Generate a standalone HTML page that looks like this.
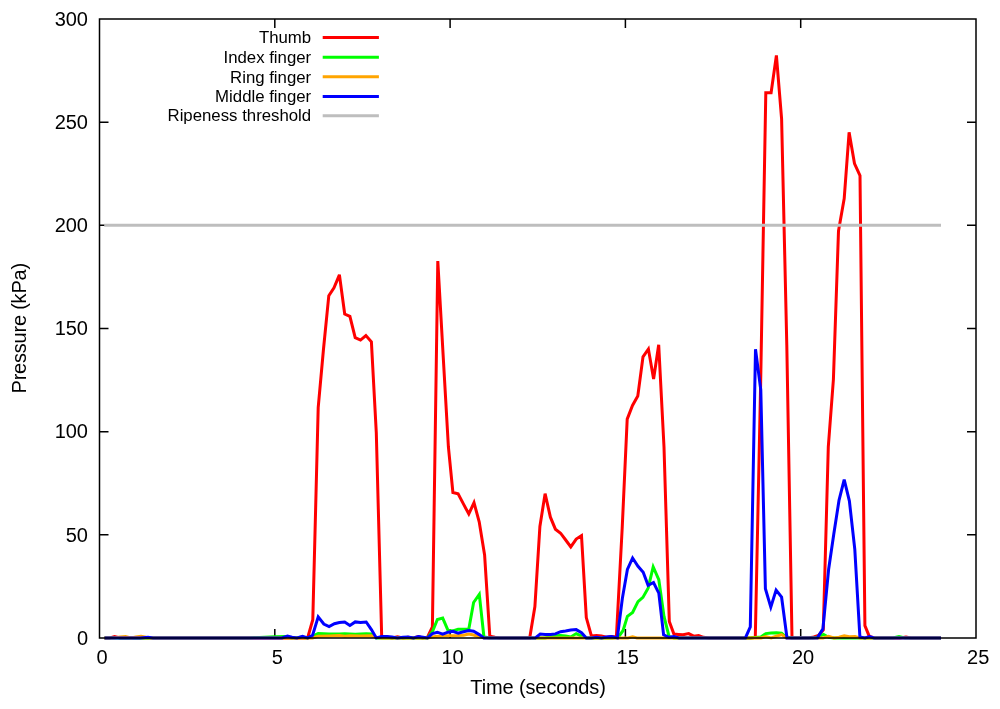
<!DOCTYPE html>
<html lang="en">
<head>
<meta charset="utf-8">
<title>Pressure vs Time</title>
<style>
html,body{margin:0;padding:0;background:#fff;}
body{width:1000px;height:709px;overflow:hidden;}
svg{display:block;}
</style>
</head>
<body>
<svg width="1000" height="709" viewBox="0 0 1000 709">
<rect width="1000" height="709" fill="#fff"/>
<g stroke="#000" stroke-width="1.5" fill="none" stroke-linecap="butt">
<path d="M99.5,534.83h9M976.0,534.83h-9"/>
<path d="M99.5,431.67h9M976.0,431.67h-9"/>
<path d="M99.5,328.50h9M976.0,328.50h-9"/>
<path d="M99.5,225.33h9M976.0,225.33h-9"/>
<path d="M99.5,122.17h9M976.0,122.17h-9"/>
<path d="M274.80,638.0v-9M274.80,19.0v9"/>
<path d="M450.10,638.0v-9M450.10,19.0v9"/>
<path d="M625.40,638.0v-9M625.40,19.0v9"/>
<path d="M800.70,638.0v-9M800.70,19.0v9"/>
</g>
<polyline fill="none" stroke="#ff0000" stroke-width="3.0" stroke-linejoin="miter" stroke-miterlimit="3.8" stroke-linecap="butt" points="104.5,637.9 109.8,637.9 114.6,636.6 120.0,637.9 125.0,637.9 130.0,637.9 140.0,637.9 150.0,637.9 200.0,637.9 250.0,637.9 290.0,637.9 302.3,637.9 307.6,637.9 312.8,619.7 318.2,407.7 323.5,349.0 328.8,295.7 334.0,287.8 339.4,274.8 344.7,314.0 349.9,316.4 355.2,337.6 360.5,340.1 365.9,335.5 371.4,341.8 376.3,432.7 381.7,637.3 387.0,637.0 392.0,637.9 397.5,636.8 403.0,637.9 408.0,637.2 413.5,637.9 418.5,636.6 422.5,637.9 427.5,637.2 432.4,626.8 437.8,261.1 443.1,354.7 448.4,447.0 452.9,492.5 458.1,493.9 463.4,503.9 468.8,514.0 474.0,502.7 479.2,521.8 484.6,554.9 489.8,636.3 495.0,637.3 500.0,637.9 510.0,637.9 520.0,637.9 529.7,637.9 534.9,606.6 539.9,526.4 545.1,493.7 550.4,517.2 555.4,529.2 560.6,533.2 565.7,540.0 570.8,546.9 576.2,539.1 581.5,535.6 586.3,617.6 591.4,636.0 596.5,635.6 601.5,635.9 606.5,637.2 611.5,636.4 616.4,636.9 622.2,528.0 627.2,419.1 632.5,405.5 637.8,396.0 643.0,356.8 648.4,349.0 653.6,379.0 658.7,344.8 664.0,447.0 669.3,621.4 673.9,634.0 678.5,634.4 683.1,634.7 688.7,633.6 693.7,636.2 698.6,635.5 703.5,637.3 709.0,637.9 720.0,637.9 735.0,637.9 745.0,637.9 750.3,637.9 755.3,637.3 760.6,386.0 765.8,92.8 771.1,92.8 776.4,55.4 781.6,118.8 786.8,345.0 792.0,637.9 797.0,637.9 803.0,637.9 808.5,637.9 813.8,637.0 818.5,635.5 823.3,630.0 828.3,446.8 833.4,379.5 838.5,230.9 844.2,198.5 849.1,132.3 854.5,163.6 860.0,175.6 864.9,625.6 869.3,636.4 875.0,637.9 880.0,637.9 900.0,637.9 906.0,637.0 911.0,637.9 925.0,637.9 941.0,637.9"/>
<polyline fill="none" stroke="#00ff00" stroke-width="3.0" stroke-linejoin="miter" stroke-miterlimit="3.8" stroke-linecap="butt" points="104.5,637.9 140.0,637.9 200.0,637.9 250.0,637.9 265.0,637.2 275.0,636.8 285.0,636.6 292.0,637.9 302.0,637.3 307.6,637.9 312.6,636.2 318.2,633.6 323.8,633.8 329.1,634.0 334.4,634.1 339.4,634.0 344.7,633.8 349.9,634.0 355.2,634.2 360.5,634.0 366.2,633.7 371.4,633.9 376.3,637.9 381.7,637.9 390.0,637.9 400.0,637.9 410.0,637.9 427.5,637.9 432.4,631.7 437.4,619.5 442.7,618.1 448.0,630.3 452.9,631.0 458.1,629.3 463.5,629.3 468.8,629.1 473.6,602.5 479.3,594.4 483.9,636.7 489.0,637.9 500.0,637.9 530.0,637.9 545.0,637.9 555.4,635.8 560.6,635.4 565.6,636.0 570.8,637.0 576.2,633.6 581.5,636.0 586.3,637.9 591.4,637.9 600.0,637.9 612.0,637.9 618.2,637.3 623.1,630.5 627.4,616.4 632.6,612.5 638.0,601.6 642.9,597.4 648.1,588.2 653.2,567.0 658.8,579.7 664.0,616.4 669.0,636.4 674.0,637.9 690.0,637.9 720.0,637.9 750.0,637.9 760.9,636.9 765.8,633.6 771.1,633.1 776.4,632.7 781.6,633.1 786.0,637.0 792.0,637.9 805.0,637.9 813.0,637.9 818.3,637.0 823.5,634.4 828.6,637.2 834.0,637.9 840.0,637.9 846.0,637.9 852.0,637.9 858.0,637.9 866.0,637.9 870.0,637.9 875.0,637.9 893.0,637.9 899.0,636.6 905.0,637.9 941.0,637.9"/>
<polyline fill="none" stroke="#ffa500" stroke-width="3.0" stroke-linejoin="miter" stroke-miterlimit="3.8" stroke-linecap="butt" points="104.5,637.9 114.0,637.9 120.0,637.0 125.5,636.4 131.0,637.9 136.0,637.0 141.0,636.2 146.0,637.3 152.0,637.9 200.0,637.9 250.0,637.9 290.0,637.9 296.0,637.9 302.0,637.9 307.6,637.9 312.6,637.9 318.2,636.2 329.0,635.9 339.4,635.6 345.0,636.2 350.0,635.8 360.0,635.9 371.4,635.8 376.3,637.2 381.7,637.9 400.0,637.9 427.5,637.9 432.4,637.0 437.4,636.2 448.0,635.8 458.1,635.6 463.5,635.3 468.8,634.1 473.6,635.0 479.3,636.9 484.0,637.9 500.0,637.9 530.0,637.9 535.3,637.9 545.0,637.9 560.0,637.9 581.0,637.9 590.0,637.9 610.0,637.9 618.0,637.9 628.0,637.9 632.6,636.9 637.0,637.9 650.0,637.9 664.0,637.9 670.0,637.9 677.0,637.9 690.0,637.9 740.0,637.9 747.0,637.9 756.0,637.9 761.0,637.9 765.8,636.6 771.1,637.9 776.4,636.2 781.6,634.6 786.5,637.9 800.0,637.9 818.0,637.9 823.0,637.9 828.6,636.4 834.0,637.9 839.0,637.2 844.2,635.9 849.4,636.8 855.0,636.6 860.0,637.9 866.0,637.9 875.0,637.9 941.0,637.9"/>
<polyline fill="none" stroke="#0000ff" stroke-width="3.0" stroke-linejoin="miter" stroke-miterlimit="3.8" stroke-linecap="butt" points="104.5,637.9 140.0,637.9 148.0,637.3 153.0,637.9 200.0,637.9 250.0,637.9 282.0,637.9 287.5,636.0 292.0,637.2 297.0,637.9 302.5,636.4 307.6,637.9 312.6,635.3 318.2,616.9 323.8,624.0 329.1,626.5 334.4,623.7 339.4,622.6 344.7,622.0 349.9,625.4 355.2,621.9 360.5,622.6 366.2,622.0 371.4,629.6 376.3,637.9 381.7,636.6 387.0,636.4 392.0,637.0 397.5,637.9 403.0,637.3 408.0,636.9 413.5,637.9 418.5,636.5 423.0,637.2 427.5,637.9 432.4,633.6 437.4,632.2 442.7,634.1 448.0,632.2 452.9,631.3 458.1,633.2 463.5,631.7 468.8,630.6 473.6,631.3 479.3,634.6 483.9,637.9 490.0,637.9 510.0,637.9 530.0,637.9 535.3,637.9 540.2,634.1 545.1,634.6 550.4,634.4 555.4,633.9 560.6,631.7 565.6,631.0 570.8,630.0 576.2,629.6 581.5,632.7 586.3,637.9 591.5,637.9 596.5,637.3 601.5,637.9 606.5,637.0 611.5,636.5 617.3,637.9 622.4,598.1 627.4,569.5 632.6,558.0 638.0,566.3 643.2,572.2 648.1,585.3 653.5,582.5 658.8,593.1 663.6,634.8 669.0,637.3 674.0,636.6 679.0,637.9 700.0,637.9 730.0,637.9 745.4,637.9 750.3,626.8 755.5,349.3 760.8,390.0 765.4,588.7 770.8,607.1 776.1,590.1 781.6,597.2 787.0,637.9 792.0,637.9 805.0,637.9 812.0,637.9 817.4,637.9 822.9,628.9 828.6,569.5 833.8,534.0 839.0,500.4 844.2,479.6 849.4,501.1 854.8,549.4 859.9,637.0 865.0,637.9 869.5,636.5 874.0,637.9 890.0,637.9 941.0,637.9"/>
<line x1="104.2" y1="225.33" x2="941.0" y2="225.33" stroke="#bebebe" stroke-width="3.0"/>
<g font-family="'Liberation Sans', Arial, Helvetica, sans-serif" font-size="16.8" fill="#000" text-anchor="end">
<text x="311.2" y="43.2">Thumb</text>
<text x="311.2" y="62.9">Index finger</text>
<text x="311.2" y="82.5">Ring finger</text>
<text x="311.2" y="102.2">Middle finger</text>
<text x="311.2" y="121.4">Ripeness threshold</text>
</g>
<line x1="322.7" y1="37.5" x2="378.9" y2="37.5" stroke="#ff0000" stroke-width="3.0"/>
<line x1="322.7" y1="57.15" x2="378.9" y2="57.15" stroke="#00ff00" stroke-width="3.0"/>
<line x1="322.7" y1="76.8" x2="378.9" y2="76.8" stroke="#ffa500" stroke-width="3.0"/>
<line x1="322.7" y1="96.45" x2="378.9" y2="96.45" stroke="#0000ff" stroke-width="3.0"/>
<line x1="322.7" y1="115.7" x2="378.9" y2="115.7" stroke="#bebebe" stroke-width="3.0"/>
<rect x="99.5" y="19.0" width="876.50" height="619.00" stroke="#000" stroke-width="1.5" fill="none"/>
<g font-family="'Liberation Sans', Arial, Helvetica, sans-serif" font-size="20" fill="#000">
<text x="88.0" y="644.7" text-anchor="end">0</text>
<text x="88.0" y="541.5" text-anchor="end">50</text>
<text x="88.0" y="438.4" text-anchor="end">100</text>
<text x="88.0" y="335.2" text-anchor="end">150</text>
<text x="88.0" y="232.0" text-anchor="end">200</text>
<text x="88.0" y="128.9" text-anchor="end">250</text>
<text x="88.0" y="25.7" text-anchor="end">300</text>
<text x="102.0" y="664.4" text-anchor="middle">0</text>
<text x="277.2" y="664.4" text-anchor="middle">5</text>
<text x="452.5" y="664.4" text-anchor="middle">10</text>
<text x="627.7" y="664.4" text-anchor="middle">15</text>
<text x="803.0" y="664.4" text-anchor="middle">20</text>
<text x="978.2" y="664.4" text-anchor="middle">25</text>
<text x="538" y="693.6" text-anchor="middle" letter-spacing="-0.12">Time (seconds)</text>
<text transform="translate(26.2,328.3) rotate(-90)" text-anchor="middle" letter-spacing="-0.22">Pressure (kPa)</text>
</g>
</svg>
</body>
</html>
